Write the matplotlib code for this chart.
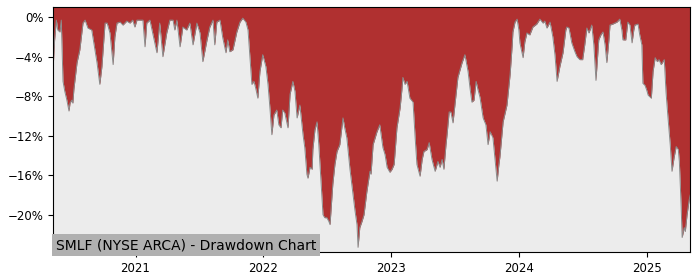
import pandas as pd
import matplotlib
matplotlib.use("Agg")
import matplotlib.pyplot as plt
import matplotlib.dates as mdates
from matplotlib.ticker import PercentFormatter

# =========================
# DONNÉES
# =========================

TITRE = "SMLF (NYSE ARCA) - Drawdown Chart"

dates = [
    "2020-05-11", "2020-05-15", "2020-05-20", "2020-05-24", "2020-05-30", "2020-06-03",
    "2020-06-08", "2020-06-13", "2020-06-19", "2020-06-25", "2020-06-28", "2020-07-03",
    "2020-07-06", "2020-07-09", "2020-07-18", "2020-07-26", "2020-08-04", "2020-08-10",
    "2020-08-18", "2020-08-29", "2020-09-07", "2020-09-13", "2020-09-21", "2020-09-27",
    "2020-10-06", "2020-10-12", "2020-10-20", "2020-10-29", "2020-11-03", "2020-11-09",
    "2020-11-18", "2020-11-26", "2020-12-07", "2020-12-16", "2020-12-24", "2020-12-30",
    "2021-01-05", "2021-01-22", "2021-01-28", "2021-02-02", "2021-02-11", "2021-02-19",
    "2021-03-03", "2021-03-11", "2021-03-20", "2021-03-31", "2021-04-09", "2021-04-18",
    "2021-04-23", "2021-04-29", "2021-05-08", "2021-05-16", "2021-05-27", "2021-06-05",
    "2021-06-14", "2021-06-25", "2021-07-04", "2021-07-12", "2021-07-24", "2021-08-01",
    "2021-08-10", "2021-08-15", "2021-08-21", "2021-08-30", "2021-09-07", "2021-09-16",
    "2021-09-21", "2021-09-27", "2021-10-06", "2021-10-17", "2021-10-26", "2021-11-03",
    "2021-11-12", "2021-11-18", "2021-11-23", "2021-11-29", "2021-12-05", "2021-12-10",
    "2021-12-16", "2021-12-22", "2021-12-30",
    "2022-01-08", "2022-01-14", "2022-01-20", "2022-01-25", "2022-01-31", "2022-02-08",
    "2022-02-14", "2022-02-20", "2022-02-25", "2022-03-03", "2022-03-12", "2022-03-18",
    "2022-03-26", "2022-04-01", "2022-04-07", "2022-04-15", "2022-04-24", "2022-04-29",
    "2022-05-05", "2022-05-08", "2022-05-14", "2022-05-20", "2022-05-22", "2022-05-28",
    "2022-06-03", "2022-06-08", "2022-06-14", "2022-06-20", "2022-06-25", "2022-07-01",
    "2022-07-07", "2022-07-10", "2022-07-13", "2022-07-18", "2022-07-24", "2022-07-30",
    "2022-08-07", "2022-08-16", "2022-08-21", "2022-08-27", "2022-09-05", "2022-09-13",
    "2022-09-19", "2022-09-25", "2022-09-28", "2022-10-03", "2022-10-09", "2022-10-15",
    "2022-10-23", "2022-11-01", "2022-11-04", "2022-11-10", "2022-11-21", "2022-11-29",
    "2022-12-08", "2022-12-14", "2022-12-20", "2022-12-28",
    "2023-01-03", "2023-01-09", "2023-01-17", "2023-01-26", "2023-01-31", "2023-02-03",
    "2023-02-09", "2023-02-15", "2023-02-23", "2023-03-04", "2023-03-10", "2023-03-15",
    "2023-03-24", "2023-03-30", "2023-04-04", "2023-04-13", "2023-04-19", "2023-04-27",
    "2023-05-06", "2023-05-14", "2023-05-20", "2023-05-26", "2023-05-31", "2023-06-06",
    "2023-06-09", "2023-06-15", "2023-06-20", "2023-06-26", "2023-07-02", "2023-07-10",
    "2023-07-22", "2023-07-30", "2023-08-08", "2023-08-14", "2023-08-19", "2023-08-25",
    "2023-08-31", "2023-09-05", "2023-09-11", "2023-09-20", "2023-09-28", "2023-10-04",
    "2023-10-10", "2023-10-18", "2023-10-24", "2023-10-30", "2023-11-04", "2023-11-07",
    "2023-11-16", "2023-11-27", "2023-12-06", "2023-12-12", "2023-12-14", "2023-12-20",
    "2023-12-26", "2023-12-31",
    "2024-01-03", "2024-01-12", "2024-01-17", "2024-01-23", "2024-01-31", "2024-02-09",
    "2024-02-20", "2024-02-29", "2024-03-09", "2024-03-14", "2024-03-20", "2024-03-29",
    "2024-04-06", "2024-04-12", "2024-04-18", "2024-04-26", "2024-05-05", "2024-05-13",
    "2024-05-16", "2024-05-22", "2024-05-30", "2024-06-08", "2024-06-14", "2024-06-22",
    "2024-06-30", "2024-07-06", "2024-07-12", "2024-07-18", "2024-07-26", "2024-08-01",
    "2024-08-07", "2024-08-15", "2024-08-21", "2024-08-27", "2024-09-02", "2024-09-07",
    "2024-09-13", "2024-09-16", "2024-09-24", "2024-10-06", "2024-10-14", "2024-10-20",
    "2024-10-23", "2024-10-31", "2024-11-06", "2024-11-12", "2024-11-18", "2024-11-23",
    "2024-11-26", "2024-12-05", "2024-12-10", "2024-12-16", "2024-12-19", "2024-12-25",
    "2024-12-30",
    "2025-01-03", "2025-01-12", "2025-01-17", "2025-01-23", "2025-01-29", "2025-02-03",
    "2025-02-09", "2025-02-18", "2025-02-23", "2025-02-28", "2025-03-07", "2025-03-12",
    "2025-03-18", "2025-03-24", "2025-03-30", "2025-04-02", "2025-04-07", "2025-04-10",
    "2025-04-16", "2025-04-19", "2025-04-24", "2025-04-30", "2025-05-03",
]

drawdown = [
    -5.0, -2.3, -0.3, -1.3, -1.5, -0.3,
    -6.5, -7.5, -8.4, -9.5, -8.7, -8.4,
    -8.7, -7.3, -4.6, -3.3, -0.6, -0.3,
    -1.1, -1.3, -3.3, -4.6, -6.8, -5.0,
    -0.6, -0.6, -1.6, -4.8, -2.0, -0.6,
    -0.5, -0.8, -0.4, -0.6, -0.3, -1.0,
    -0.3, -0.3, -3.0, -0.6, -0.3, -1.6,
    -3.6, -0.6, -4.0, -1.6, -0.3, -0.3,
    -1.3, -0.3, -3.0, -1.0, -1.3, -0.6,
    -2.8, -0.6, -1.6, -4.5, -2.3, -1.0,
    -0.3, -2.8, -0.5, -0.3, -2.1, -3.6,
    -2.3, -3.5, -3.3, -1.5, -0.5, -0.1,
    -0.5, -1.3, -3.8, -6.8, -6.5, -7.2,
    -8.2, -5.5, -3.8,
    -5.0, -6.8, -9.4, -11.9, -9.9, -9.4,
    -10.9, -11.2, -9.4, -9.7, -11.2, -7.8,
    -6.5, -7.5, -10.2, -8.9, -11.9, -13.2,
    -15.9, -16.3, -15.2, -15.4, -13.4, -11.4,
    -10.6, -12.9, -16.4, -20.0, -20.3, -20.3,
    -20.7, -21.0, -19.5, -16.9, -14.9, -13.6,
    -12.9, -10.2, -11.2, -12.2, -15.4, -17.7,
    -19.5, -21.0, -23.3, -21.3, -20.7, -20.0,
    -17.7, -15.6, -15.9, -12.9, -11.6, -10.9,
    -13.2, -13.9, -15.2, -15.7,
    -15.4, -14.9, -11.2, -9.2, -7.4, -6.1,
    -6.8, -6.5, -8.2, -8.6, -12.2, -14.9,
    -16.1, -14.4, -13.6, -13.4, -12.7, -14.4,
    -15.6, -14.6, -15.2, -14.4, -15.4, -12.9,
    -11.9, -9.6, -9.6, -10.7, -8.7, -6.1,
    -4.6, -3.8, -5.5, -7.3, -8.6, -8.4,
    -6.5, -7.3, -8.1, -10.2, -10.9, -12.9,
    -11.6, -12.2, -14.4, -16.6, -14.9, -14.1,
    -10.6, -8.9, -5.8, -2.8, -1.5, -0.5,
    -0.2, -1.3,
    -2.6, -4.1, -2.5, -1.6, -1.8, -1.0,
    -0.7, -0.2, -0.6, -0.4, -1.1, -0.5,
    -2.0, -3.8, -6.5, -5.0, -3.6, -1.3,
    -1.0, -1.1, -2.6, -3.5, -4.0, -4.3,
    -4.3, -2.8, -1.1, -1.6, -0.8, -2.8,
    -6.4, -2.3, -1.8, -1.5, -2.8, -4.6,
    -2.3, -0.8, -0.7, -0.5, -0.2, -1.3,
    -2.3, -2.3, -0.5, -0.8, -2.6, -1.3,
    -0.8, -0.7, -1.8, -2.8, -6.7, -6.9,
    -7.4,
    -7.9, -8.2, -5.5, -4.1, -4.5, -4.3,
    -4.8, -4.3, -7.6, -9.9, -12.9, -15.6,
    -14.2, -13.1, -13.4, -14.6, -19.0, -22.3,
    -21.3, -21.7, -20.0, -18.5, -18.0,
]

# =========================
# STYLE
# =========================

ROUGE = "#b03030"
FOND = "#ececec"
BORD = "#8a8a8a"
Y_MIN, Y_MAX = -23.8, 1.0

df = pd.DataFrame({"date": pd.to_datetime(dates), "dd": drawdown})

# =========================
# GRAPHIQUE
# =========================

fig = plt.figure(figsize=(7, 2.8), dpi=100)
ax = fig.add_axes([0.076, 0.099, 0.910, 0.875])
ax.set_facecolor(FOND)

ax.fill_between(df["date"], df["dd"], Y_MAX, color=ROUGE, linewidth=0)
ax.plot(df["date"], df["dd"], color=BORD, linewidth=0.7)

ax.set_xlim(df["date"].iloc[0], df["date"].iloc[-1])
ax.set_ylim(Y_MIN, Y_MAX)

ax.xaxis.set_major_locator(mdates.YearLocator())
ax.xaxis.set_major_formatter(mdates.DateFormatter("%Y"))
ax.set_yticks([0, -4, -8, -12, -16, -20])
ax.yaxis.set_major_formatter(PercentFormatter(decimals=0))
ax.tick_params(labelsize=8.5)

ax.text(0.004, 0.0, TITRE, transform=ax.transAxes, fontsize=10,
        ha="left", va="bottom",
        bbox=dict(facecolor="#b0b0b0", edgecolor="none", pad=3))

fig.savefig("out.png", dpi=100)
